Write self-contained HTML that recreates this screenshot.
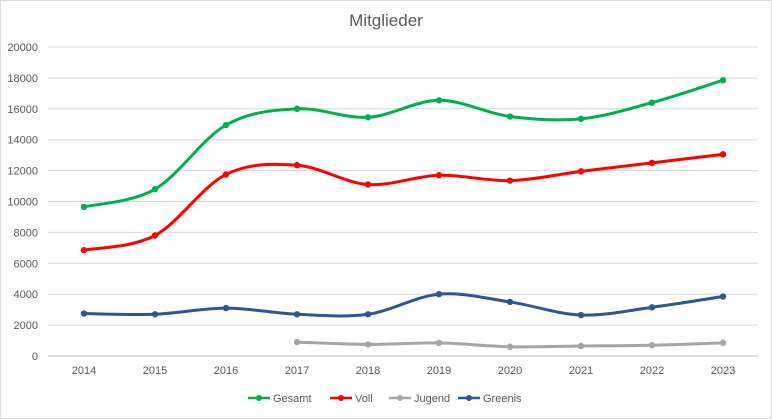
<!DOCTYPE html>
<html><head><meta charset="utf-8"><style>
body{margin:0;background:#fff;}
svg{display:block;font-family:"Liberation Sans",sans-serif;}
</style></head><body>
<svg id="c" width="772" height="419" viewBox="0 0 772 419">
<rect x="0.5" y="0.5" width="771" height="418" fill="#fff" stroke="#d9d9d9"/>
<text x="386" y="26" text-anchor="middle" font-size="17" fill="#595959">Mitglieder</text>
<g id="grid"></g>
<g id="lines"></g>
<g font-size="11" fill="#595959">
<line x1="248" y1="398" x2="270" y2="398" stroke="#00b050" stroke-width="2.5"/><circle cx="259" cy="398" r="3" fill="#00b050"/><text x="273" y="402">Gesamt</text>
<line x1="330" y1="398" x2="352" y2="398" stroke="#ff0000" stroke-width="2.5"/><circle cx="341" cy="398" r="3" fill="#ff0000"/><text x="355" y="402">Voll</text>
<line x1="389" y1="398" x2="411" y2="398" stroke="#a5a5a5" stroke-width="2.5"/><circle cx="400" cy="398" r="3" fill="#a5a5a5"/><text x="414" y="402">Jugend</text>
<line x1="458" y1="398" x2="480" y2="398" stroke="#2f5597" stroke-width="2.5"/><circle cx="469" cy="398" r="3" fill="#2f5597"/><text x="483" y="402">Greenis</text>
</g>
</svg>
<script>
var NS="http://www.w3.org/2000/svg";
function el(p,t,a,txt){var e=document.createElementNS(NS,t);for(var k in a)e.setAttribute(k,a[k]);if(txt!=null)e.textContent=txt;document.getElementById(p).appendChild(e);return e;}
var y0=356,yTop=47,X0=84,dx=(723-84)/9;
function Y(v){return y0-(y0-yTop)*v/20000;}
for(var v=0;v<=20000;v+=2000){var y=Y(v);
 if(v>0)el("grid","line",{x1:48,x2:758,y1:y,y2:y,stroke:"#d9d9d9","stroke-width":1});
 el("grid","text",{x:38,y:y+4,"text-anchor":"end","font-size":"11",fill:"#595959"},v);}
el("grid","line",{x1:48,x2:758,y1:y0,y2:y0,stroke:"#bfbfbf","stroke-width":1});
for(var i=0;i<10;i++){el("grid","text",{x:X0+dx*i,y:374,"text-anchor":"middle","font-size":"11",fill:"#595959"},2014+i);}
var S=[
["#00b050",0,[9650,10800,14950,16000,15450,16550,15500,15350,16400,17850]],
["#ff0000",0,[6850,7800,11750,12350,11100,11700,11350,11950,12500,13050]],
["#a5a5a5",3,[900,750,850,600,650,700,850]],
["#2f5597",0,[2750,2700,3100,2700,2700,4000,3500,2650,3150,3850]]];
S.forEach(function(s){
 var p=s[2].map(function(v,i){return [X0+dx*(i+s[1]),Y(v)];});
 var d="M"+p[0][0]+","+p[0][1];
 for(var i=0;i<p.length-1;i++){
  var a=p[i-1]||p[i],b=p[i],c=p[i+1],e=p[i+2]||c,t=0.33;
  d+=" C"+(b[0]+(c[0]-a[0])*t/2*1.0)+","+(b[1]+(c[1]-a[1])*t/2*1.0)+" "+(c[0]-(e[0]-b[0])*t/2)+","+(c[1]-(e[1]-b[1])*t/2)+" "+c[0]+","+c[1];
 }
 el("lines","path",{d:d,fill:"none",stroke:s[0],"stroke-width":3,"stroke-linecap":"round"});
 p.forEach(function(q){el("lines","circle",{cx:q[0],cy:q[1],r:3.2,fill:s[0]});});
});
</script>
</body></html>
